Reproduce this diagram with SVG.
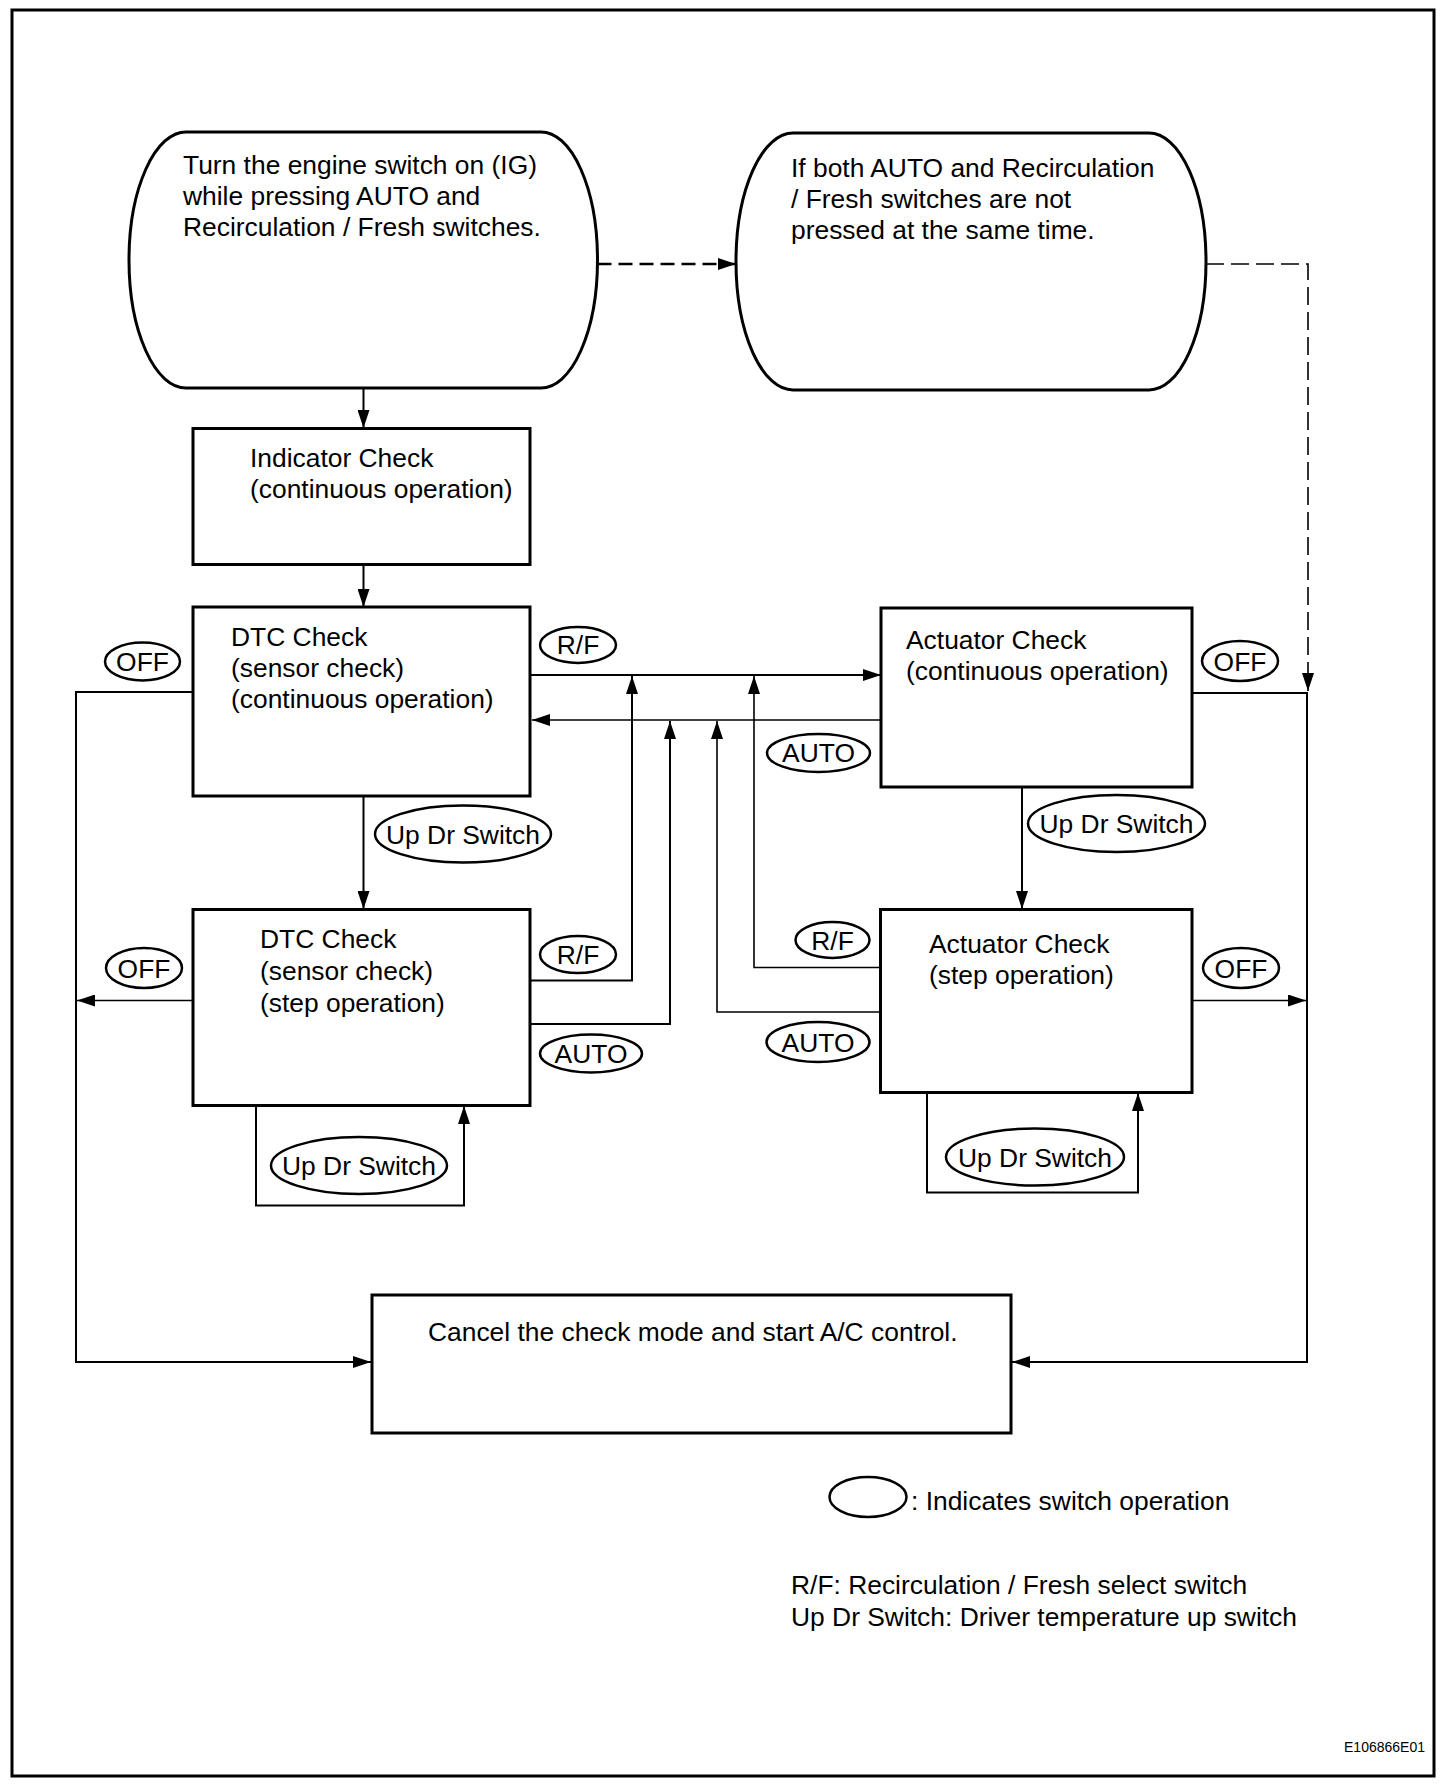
<svg xmlns="http://www.w3.org/2000/svg" width="1456" height="1788" viewBox="0 0 1456 1788">
<style>
text{font-family:"Liberation Sans",Arial,sans-serif;font-size:26.4px;fill:#000}
.box{fill:#fff;stroke:#000;stroke-width:3}
.lbl{fill:#fff;stroke:#000;stroke-width:2.5}
.c{fill:none;stroke:#000;stroke-width:2}
.d1{fill:none;stroke:#000;stroke-width:2.5;stroke-dasharray:14 7}
.d2{fill:none;stroke:#000;stroke-width:1.6;stroke-dasharray:18 7}
.m{text-anchor:middle}
</style>
<defs>
<marker id="arr" viewBox="0 0 18 12" refX="18" refY="6" markerWidth="18" markerHeight="12" markerUnits="userSpaceOnUse" orient="auto">
<path d="M0,0 L18,6 L0,12 z" fill="#000"/>
</marker>
</defs>
<rect x="12" y="10" width="1422" height="1766" fill="#fff" stroke="#000" stroke-width="3"/>

<g id="connectors">
<path class="c" d="M363.5,388 V428" marker-end="url(#arr)"/>
<path class="c" d="M363.5,564.5 V607" marker-end="url(#arr)"/>
<path class="d1" d="M597.5,264 H736" marker-end="url(#arr)"/>
<path class="d2" d="M1206,264 H1308 V691" marker-end="url(#arr)"/>
<path class="c" d="M530,675 H881" marker-end="url(#arr)"/>
<path class="c" style="stroke-width:1.6" d="M881,720 H532" marker-end="url(#arr)"/>
<path class="c" d="M363.5,796 V909" marker-end="url(#arr)"/>
<path class="c" d="M1022,787 V909" marker-end="url(#arr)"/>
<path class="c" d="M530,980.5 H632 V676" marker-end="url(#arr)"/>
<path class="c" d="M530,1024 H670 V721" marker-end="url(#arr)"/>
<path class="c" style="stroke-width:1.6" d="M880,967.5 H754 V676" marker-end="url(#arr)"/>
<path class="c" style="stroke-width:1.6" d="M880,1012 H717 V721" marker-end="url(#arr)"/>
<path class="c" d="M256,1105.5 V1205.5 H464 V1106" marker-end="url(#arr)"/>
<path class="c" d="M927,1092 V1192.5 H1138 V1093" marker-end="url(#arr)"/>
<path class="c" d="M193,692 H76 V1362 H371" marker-end="url(#arr)"/>
<path class="c" style="stroke-width:1.6" d="M193,1000.5 H77" marker-end="url(#arr)"/>
<path class="c" d="M1192,693 H1307 V1362 H1012" marker-end="url(#arr)"/>
<path class="c" style="stroke-width:1.6" d="M1192,1000.5 H1306" marker-end="url(#arr)"/>
</g>

<g id="start">
<path class="box" d="M186,132 H541 A56.5,128 0 0 1 541,388 H186 A57,128 0 0 1 186,132 Z"/>
<text x="183" y="174">Turn the engine switch on (IG)</text>
<text x="183" y="205">while pressing AUTO and</text>
<text x="183" y="236">Recirculation / Fresh switches.</text>
</g>

<g id="notpressed">
<path class="box" d="M793,133 H1149 A57,128.5 0 0 1 1149,390 H793 A57,128.5 0 0 1 793,133 Z"/>
<text x="791" y="177">If both AUTO and Recirculation</text>
<text x="791" y="208">/ Fresh switches are not</text>
<text x="791" y="239">pressed at the same time.</text>
</g>

<g id="indicator">
<rect class="box" x="193" y="428.5" width="337" height="136"/>
<text x="250" y="467">Indicator Check</text>
<text x="250" y="498">(continuous operation)</text>
</g>

<g id="dtc1">
<rect class="box" x="193" y="607" width="337" height="189"/>
<text x="231" y="646">DTC Check</text>
<text x="231" y="677">(sensor check)</text>
<text x="231" y="708">(continuous operation)</text>
</g>

<g id="act1">
<rect class="box" x="881" y="608" width="311" height="179"/>
<text x="906" y="649">Actuator Check</text>
<text x="906" y="680">(continuous operation)</text>
</g>

<g id="dtc2">
<rect class="box" x="193" y="909.5" width="337" height="196"/>
<text x="260" y="948">DTC Check</text>
<text x="260" y="980">(sensor check)</text>
<text x="260" y="1012">(step operation)</text>
</g>

<g id="act2">
<rect class="box" x="880.5" y="909.5" width="311.5" height="183"/>
<text x="929" y="953">Actuator Check</text>
<text x="929" y="984">(step operation)</text>
</g>

<g id="cancel">
<rect class="box" x="372" y="1295" width="639" height="138"/>
<text x="428" y="1341">Cancel the check mode and start A/C control.</text>
</g>

<g id="labels">
<g id="lbl-off1"><ellipse class="lbl" cx="142.5" cy="661.5" rx="37.5" ry="19"/><text class="m" x="142.5" y="671">OFF</text></g>
<g id="lbl-rf1"><ellipse class="lbl" cx="578" cy="645" rx="38" ry="18"/><text class="m" x="578" y="654">R/F</text></g>
<g id="lbl-auto1"><ellipse class="lbl" cx="818.5" cy="753" rx="51.5" ry="19"/><text class="m" x="818.5" y="762">AUTO</text></g>
<g id="lbl-off2"><ellipse class="lbl" cx="1240" cy="661" rx="38" ry="20"/><text class="m" x="1240" y="670.5">OFF</text></g>
<g id="lbl-up1"><ellipse class="lbl" cx="463" cy="834" rx="88" ry="28.5"/><text class="m" x="463" y="843.5">Up Dr Switch</text></g>
<g id="lbl-up2"><ellipse class="lbl" cx="1116.5" cy="823.5" rx="88.5" ry="28.5"/><text class="m" x="1116.5" y="833">Up Dr Switch</text></g>
<g id="lbl-off3"><ellipse class="lbl" cx="144" cy="968" rx="38" ry="20"/><text class="m" x="144" y="977.5">OFF</text></g>
<g id="lbl-rf2"><ellipse class="lbl" cx="578" cy="954.5" rx="38" ry="18.5"/><text class="m" x="578" y="964">R/F</text></g>
<g id="lbl-auto2"><ellipse class="lbl" cx="591" cy="1053.5" rx="51" ry="19"/><text class="m" x="591" y="1063">AUTO</text></g>
<g id="lbl-rf3"><ellipse class="lbl" cx="832.5" cy="940" rx="37" ry="18"/><text class="m" x="832.5" y="949.5">R/F</text></g>
<g id="lbl-auto3"><ellipse class="lbl" cx="818" cy="1042" rx="51.5" ry="20"/><text class="m" x="818" y="1051.5">AUTO</text></g>
<g id="lbl-off4"><ellipse class="lbl" cx="1241" cy="968" rx="38" ry="20"/><text class="m" x="1241" y="977.5">OFF</text></g>
<g id="lbl-up3"><ellipse class="lbl" cx="359" cy="1165.5" rx="88" ry="28.5"/><text class="m" x="359" y="1175">Up Dr Switch</text></g>
<g id="lbl-up4"><ellipse class="lbl" cx="1035" cy="1157" rx="89" ry="28.5"/><text class="m" x="1035" y="1166.5">Up Dr Switch</text></g>
</g>

<g id="legend">
<ellipse class="lbl" cx="868" cy="1497" rx="38.5" ry="20"/>
<text x="911" y="1510">: Indicates switch operation</text>
<text x="791" y="1594">R/F: Recirculation / Fresh select switch</text>
<text x="791" y="1626">Up Dr Switch: Driver temperature up switch</text>
</g>
<text x="1425" y="1752" style="font-size:14px;text-anchor:end">E106866E01</text>
</svg>
